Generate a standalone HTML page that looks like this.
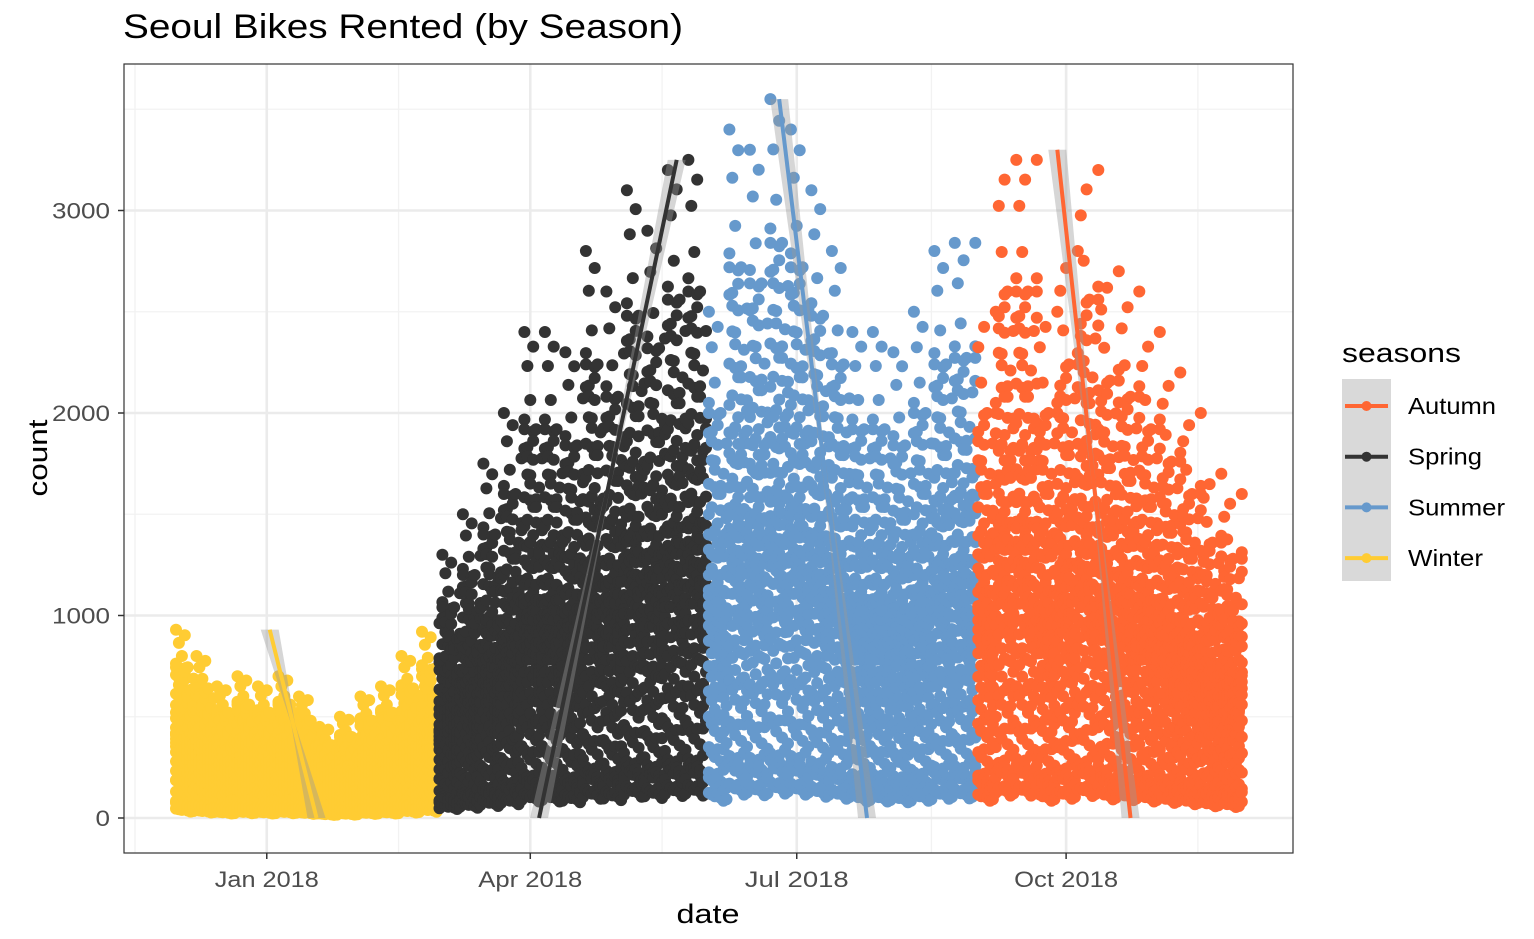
<!DOCTYPE html>
<html><head><meta charset="utf-8"><style>
body{margin:0;background:#fff;}
svg text{font-family:"Liberation Sans",Arial,sans-serif;}
</style></head><body>
<svg id="chart" width="1534" height="934" xmlns="http://www.w3.org/2000/svg">
<rect width="1534" height="934" fill="#fff"/>
<text x="123" y="38" font-size="34" textLength="560" lengthAdjust="spacingAndGlyphs" fill="#000">Seoul Bikes Rented (by Season)</text>
<g id="grid"></g>
<g id="pts"></g>
<g id="fits"></g>
<rect x="124" y="64" width="1169" height="789" fill="none" stroke="#333" stroke-width="1.2"/>
<g id="axes"></g>
<text x="708" y="923" font-size="27" text-anchor="middle" textLength="63" lengthAdjust="spacingAndGlyphs" fill="#000">date</text>
<text transform="translate(47,458) rotate(-90)" font-size="27" text-anchor="middle" textLength="77" lengthAdjust="spacingAndGlyphs" fill="#000">count</text>
<g>
<text x="1342" y="362" font-size="27" textLength="119" lengthAdjust="spacingAndGlyphs" fill="#000">seasons</text>
<rect x="1342" y="379" width="49" height="202" fill="#d9d9d9"/>
<g id="legend"></g>
</g>
</svg>
<script>
// data (day index 0 = 2017-12-01)
const seasons = ["Autumn","Spring","Summer","Winter"];
const colors = {Autumn:"#FF6633",Spring:"#333333",Summer:"#6699CC",Winter:"#FFCC33"};
const seasonStart = {Winter:0,Spring:90,Summer:182,Autumn:274};
const seasonLen = {Winter:90,Spring:92,Summer:92,Autumn:91};
const winterWeeklyMax = [930,800,650,700,650,700,600,450,500,600,650,800,920];
const springWeeklyMax = [1300,1500,1750,2000,2400,2400,2300,2800,2600,3100,2900,3200,3250,3250];
const summerWeeklyMax = [2500,3400,3300,3550,3400,3100,2800,2400,2400,2300,2500,2800,2840,2840];
const autumnWeeklyMax = [2500,3250,3250,2500,2800,3200,2700,2600,2400,2200,2000,1700,1600,1600];
const hourProfile = [0.25,0.2,0.14,0.09,0.05,0.08,0.2,0.45,0.82,0.45,0.3,0.35,0.4,0.42,0.44,0.48,0.56,0.76,1.0,0.8,0.66,0.6,0.53,0.38];
const weekdayFactor = [1,0.93,0.86,0.97,0.8,0.68,0.74];
const fitStart = {Winter:[32,930],Spring:[124,0],Summer:[206,3550],Autumn:[301,3300]};
const fitEnd = {Winter:[48,0],Spring:[171,3250],Summer:[236,0],Autumn:[326,0]};
const xTicks = [[31,"Jan 2018"],[121,"Apr 2018"],[212,"Jul 2018"],[304,"Oct 2018"]];
const xMinor = [-14,76,166,258,349];
const yTicks = [0,1000,2000,3000];
const legendLen = {Autumn:88,Spring:74,Summer:97,Winter:75};
const weekly = {Winter:winterWeeklyMax,Spring:springWeeklyMax,Summer:summerWeeklyMax,Autumn:autumnWeeklyMax};

const NS="http://www.w3.org/2000/svg";
const X = d => 176 + d*2.928;
const Y = c => 818 - c*0.2025;
function mk(tag, attrs, parent){const e=document.createElementNS(NS,tag);for(const k in attrs)e.setAttribute(k,attrs[k]);parent.appendChild(e);return e;}
const grid=document.getElementById('grid'), axes=document.getElementById('axes');
xMinor.forEach(d=>{const l=mk('line',{x1:X(d),x2:X(d),y1:64,y2:853,stroke:'#f2f2f2','stroke-width':1.3},grid);

});
yTicks.forEach(v=>{const l=mk('line',{x1:124,x2:1293,y1:Y(v+500),y2:Y(v+500),stroke:'#f2f2f2','stroke-width':1.3},grid);

});
xTicks.forEach(t=>{const l=mk('line',{x1:X(t[0]),x2:X(t[0]),y1:64,y2:853,stroke:'#ebebeb','stroke-width':2.6},grid);


mk('line',{x1:X(t[0]),x2:X(t[0]),y1:853,y2:859,stroke:'#333','stroke-width':1.5},axes);
const tx=mk('text',{x:X(t[0]),y:887,'font-size':22,'text-anchor':'middle',fill:'#4d4d4d',textLength:104,lengthAdjust:'spacingAndGlyphs'},axes);tx.textContent=t[1];

});
yTicks.forEach(v=>{const l=mk('line',{x1:124,x2:1293,y1:Y(v),y2:Y(v),stroke:'#ebebeb','stroke-width':2.6},grid);


mk('line',{x1:118,x2:124,y1:Y(v),y2:Y(v),stroke:'#333','stroke-width':1.5},axes);
const tx=mk('text',{x:110,y:Y(v)+8,'font-size':22,'text-anchor':'end',fill:'#4d4d4d',textLength:String(v).length*14.5,lengthAdjust:'spacingAndGlyphs'},axes);tx.textContent=v;

});
const pts=document.getElementById('pts');
["Winter","Spring","Summer","Autumn"].forEach(s=>{
  const g=mk('g',{fill:colors[s]},pts);
  
  
  for(let i=0;i<seasonLen[s];i++){
    const d=seasonStart[s]+i, peak=weekly[s][Math.floor(i/7)]*weekdayFactor[d%7];
    hourProfile.forEach(f=>{mk('circle',{cx:X(d).toFixed(1),cy:Y(peak*f).toFixed(1),r:6},g);});
  }
});
const fits=document.getElementById('fits');
seasons.forEach(s=>{
  const a=fitStart[s],b=fitEnd[s];const x1=X(a[0]),y1=Y(a[1]),x2=X(b[0]),y2=Y(b[1]);
  const xm=(x1+x2)/2;
  const band=mk('polygon',{points:`${x1-9},${y1} ${x1+9},${y1} ${xm+2},${(y1+y2)/2} ${x2+9},${y2} ${x2-9},${y2} ${xm-2},${(y1+y2)/2}`,fill:'#999','fill-opacity':0.4},fits);
  
  
  const l=mk('line',{x1:x1,y1:y1,x2:x2,y2:y2,stroke:colors[s],'stroke-width':4},fits);
  
  
});
const lg=document.getElementById('legend');
seasons.forEach((s,i)=>{const y=406+i*50.7;
  const g=mk('g',{},lg);
  
  
  mk('line',{x1:1345,x2:1388,y1:y,y2:y,stroke:colors[s],'stroke-width':4},g);
  mk('circle',{cx:1366.5,cy:y,r:5,fill:colors[s]},g);
  const t=mk('text',{x:1408,y:y+8,'font-size':23,fill:'#000',textLength:legendLen[s],lengthAdjust:'spacingAndGlyphs'},g);t.textContent=s;});
</script>
</body></html>
